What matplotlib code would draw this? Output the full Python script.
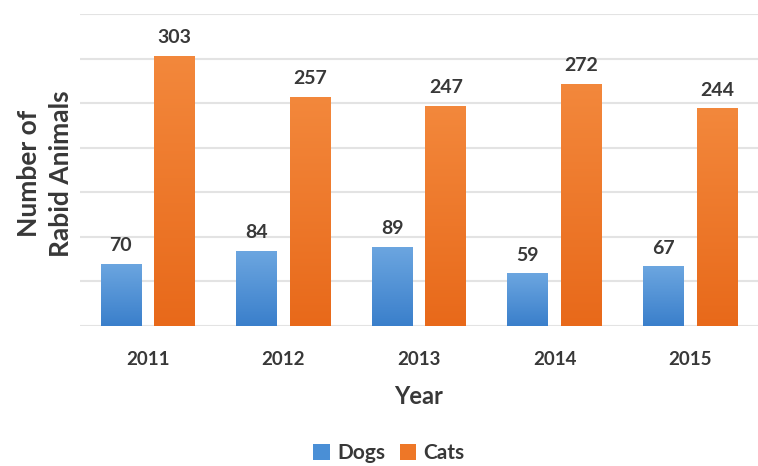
import numpy as np
import matplotlib.pyplot as plt
from matplotlib.colors import LinearSegmentedColormap
from matplotlib.patches import Patch

years = ["2011", "2012", "2013", "2014", "2015"]
dogs = [70, 84, 89, 59, 67]
cats = [303, 257, 247, 272, 244]

TEXT = "#383838"
FONT = ["Lato", "DejaVu Sans"]

blue_cm = LinearSegmentedColormap.from_list("blue", ["#3a7fcb", "#6ca6e0"])
orange_cm = LinearSegmentedColormap.from_list("orange", ["#e8691a", "#f3883c"])


def gradient_bars(ax, x, heights, width, cmap):
    bars = ax.bar(x, heights, width=width, color="none", edgecolor="none", zorder=3)
    grad = np.linspace(0, 1, 256).reshape(-1, 1)
    for b in bars:
        x0, y0 = b.get_x(), b.get_y()
        w, h = b.get_width(), b.get_height()
        im = ax.imshow(grad, cmap=cmap, origin="lower", aspect="auto",
                       extent=(x0, x0 + w, y0, y0 + h), zorder=3)
        im.set_clip_path(b)
    return bars


fig = plt.figure(figsize=(7.58, 4.66), dpi=100)
ax = fig.add_axes([0.1055, 0.3004, 0.8945, 0.6696])

x = np.arange(len(years))
width = 0.30
offset = 0.198

dog_bars = gradient_bars(ax, x - offset, dogs, width, blue_cm)
cat_bars = gradient_bars(ax, x + offset, cats, width, orange_cm)

for bars, vals in ((dog_bars, dogs), (cat_bars, cats)):
    for b, v in zip(bars, vals):
        ax.annotate(str(v), (b.get_x() + b.get_width() / 2, v),
                    xytext=(0, 7), textcoords="offset points",
                    ha="center", va="bottom", fontsize=14,
                    fontweight="bold", color=TEXT, family=FONT)

ax.set_xlim(-0.5, len(years) - 0.5)
ax.set_ylim(0, 350)
ax.set_yticks(np.arange(0, 351, 50))
ax.set_yticklabels([])
ax.tick_params(axis="y", length=0)
ax.grid(axis="y", color="#e3e3e3", linewidth=1.5, zorder=0)
ax.set_axisbelow(True)

ax.set_xticks(x)
ax.set_xticklabels(years, fontsize=13.5, fontweight="bold", color=TEXT, family=FONT)
ax.tick_params(axis="x", length=0, pad=18)

for s in ax.spines.values():
    s.set_visible(False)

ax.set_xlabel("Year", fontsize=17, fontweight="bold", color=TEXT,
              family=FONT, labelpad=12)
fig.text(0.059, 0.628, "Number of\nRabid Animals", rotation=90,
         ha="center", va="center", fontsize=19, fontweight="bold",
         color=TEXT, family=FONT, linespacing=1.4)

handles = [Patch(facecolor="#4a8fd6", label="Dogs"),
           Patch(facecolor="#ee7727", label="Cats")]
fig.legend(handles=handles, loc="center", bbox_to_anchor=(0.513, 0.027),
           ncol=2, frameon=False, handlelength=0.8, handleheight=0.8,
           handletextpad=0.35, columnspacing=0.7,
           prop={"family": FONT, "weight": "bold", "size": 15},
           labelcolor=TEXT)

fig.savefig("out.png", dpi=100)
